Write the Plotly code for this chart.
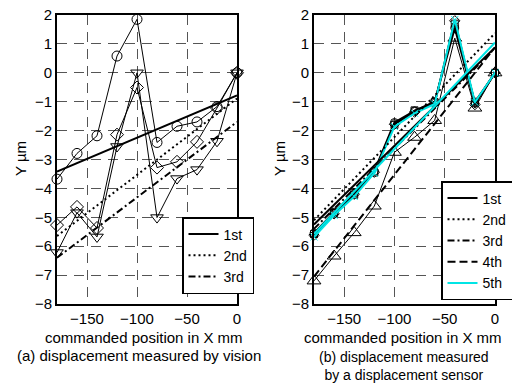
import plotly.graph_objects as go

# ---------------- data ----------------
x_pos = [-180, -160, -140, -120, -100, -80, -60, -40, -20, 0]
fit_x = [-180, 0]

# (a) displacement measured by vision
a_circle = [-3.68, -2.79, -2.18, 0.58, 1.85, -2.41, -1.85, -1.70, -1.17, 0.0]
a_diamond = [-5.27, -4.64, -5.37, -2.14, -0.51, -3.28, -3.08, -2.39, -1.22, 0.0]
a_tridown = [-6.22, -4.84, -5.68, -2.55, 0.0, -5.01, -3.66, -3.35, -2.37, 0.0]
a_fit1 = [-3.42, -0.78]
a_fit2 = [-5.65, -0.89]
a_fit3 = [-6.40, -1.70]

# (b) displacement measured by a displacement sensor
b_run1 = [-5.55, -4.82, -4.15, -3.40, -1.72, -1.32, -1.00, 1.55, -1.05, 0.0]
b_run2 = [-5.62, -4.88, -4.20, -3.44, -1.78, -1.36, -1.05, 1.80, -1.10, 0.0]
b_run3 = [-5.58, -4.85, -4.22, -3.45, -1.80, -1.30, -1.02, 1.70, -1.00, 0.0]
b_run4 = [-7.20, -6.34, -5.53, -4.61, -2.75, -2.23, -1.65, 1.20, -1.22, 0.0]
b_run5 = [-5.68, -4.93, -4.28, -3.47, -1.86, -1.40, -1.08, 1.84, -1.02, 0.0]
b_fit1 = [-5.25, 0.88]
b_fit2 = [-5.10, 1.37]
b_fit3 = [-5.40, 0.85]
b_fit4 = [-7.05, 0.88]
b_fit5 = [-5.58, 1.05]

legend_names_a = ["1st", "2nd", "3rd"]
legend_names_b = ["1st", "2nd", "3rd", "4th", "5th"]

FONT = "Liberation Sans"
CYAN = "#00e5e5"

fig = go.Figure()

def data_trace(y, symbol, xa, ya, color="black", lw=1, size=9):
    fig.add_trace(go.Scatter(
        x=x_pos, y=y, mode="lines+markers", xaxis=xa, yaxis=ya,
        line=dict(color=color, width=lw),
        marker=dict(symbol=symbol, size=size, color=color,
                    line=dict(color=color, width=1)),
        showlegend=False, cliponaxis=False, hoverinfo="skip"))

def fit_trace(y, name, dash, xa, ya, legend, color="black", lw=2):
    fig.add_trace(go.Scatter(
        x=fit_x, y=y, mode="lines", xaxis=xa, yaxis=ya, name=name,
        line=dict(color=color, width=lw, dash=dash),
        legend=legend, cliponaxis=False))

# panel (a)
data_trace(a_circle, "circle-open", "x", "y", size=10)
data_trace(a_diamond, "diamond-open", "x", "y", size=10)
data_trace(a_tridown, "triangle-down-open", "x", "y", size=11)
fit_trace(a_fit1, legend_names_a[0], "solid", "x", "y", "legend")
fit_trace(a_fit2, legend_names_a[1], "2px,3px", "x", "y", "legend")
fit_trace(a_fit3, legend_names_a[2], "7px,3px,2px,3px", "x", "y", "legend")

# panel (b)
data_trace(b_run4, "triangle-up-open", "x2", "y2", size=12)
data_trace(b_run1, "circle-open", "x2", "y2", lw=2, size=8)
data_trace(b_run2, "diamond-open", "x2", "y2", lw=2, size=8)
data_trace(b_run3, "square-open", "x2", "y2", lw=1.5, size=7)
data_trace(b_run5, "x-thin-open", "x2", "y2", color=CYAN, lw=2, size=7)
fit_trace(b_fit1, legend_names_b[0], "solid", "x2", "y2", "legend2")
fit_trace(b_fit2, legend_names_b[1], "2px,3px", "x2", "y2", "legend2")
fit_trace(b_fit3, legend_names_b[2], "7px,3px,2px,3px", "x2", "y2", "legend2")
fit_trace(b_fit4, legend_names_b[3], "8px,4px", "x2", "y2", "legend2")
fit_trace(b_fit5, legend_names_b[4], "solid", "x2", "y2", "legend2", color=CYAN)

axis_common = dict(
    showline=True, mirror=True, linecolor="black", linewidth=2,
    showgrid=True, gridcolor="#555555", gridwidth=1.3, griddash="10px,7px",
    zeroline=False, ticks="", tickfont=dict(family=FONT, size=15, color="black"),
    automargin=False,
)

xticks = [-150, -100, -50, 0]
yticks = list(range(-8, 3))

ydom = [1 - 304 / 383, 1 - 15 / 383]
legend_common = dict(bgcolor="white", bordercolor="black", borderwidth=1.5,
                     font=dict(family=FONT, size=14), itemwidth=30,
                     tracegroupgap=0)
fig.update_layout(
    width=512, height=383,
    margin=dict(l=0, r=0, t=0, b=0, autoexpand=False),
    paper_bgcolor="white", plot_bgcolor="white",
    font=dict(family=FONT, size=15, color="black"),
    xaxis=dict(axis_common, range=[-180, 0], tickvals=xticks,
               domain=[57 / 512, 237 / 512], anchor="y"),
    yaxis=dict(axis_common, range=[-8, 2], tickvals=yticks,
               domain=ydom, anchor="x"),
    xaxis2=dict(axis_common, range=[-180, 0], tickvals=xticks,
                domain=[314 / 512, 495 / 512], anchor="y2"),
    yaxis2=dict(axis_common, range=[-8, 2], tickvals=yticks,
                domain=ydom, anchor="x2"),
    legend=dict(legend_common, x=254 / 512, y=1 - 294 / 383,
                xanchor="right", yanchor="bottom"),
    legend2=dict(legend_common, x=513 / 512, y=1 - 300 / 383,
                 xanchor="right", yanchor="bottom"),
    showlegend=True,
)

def ann(text, x, y, rot=0, size=15):
    fig.add_annotation(text=text, x=x / 512, y=1 - y / 383, xref="paper", yref="paper",
                       showarrow=False, textangle=rot, xanchor="center", yanchor="middle",
                       font=dict(family=FONT, size=size, color="black"))

ann("commanded position in X mm", 144, 337)
ann("commanded position in X mm", 403, 337)
ann("(a) displacement measured by vision", 139, 355)
ann("(b) displacement measured<br>by a displacement sensor", 404, 366, size=14)
ann("Y µm", 20, 159, rot=-90)
ann("Y µm", 279, 159, rot=-90)

fig.write_html(
    "out.html",
    config={"displayModeBar": False},
    post_script="document.body.style.margin='0';document.body.style.overflow='hidden';",
)
